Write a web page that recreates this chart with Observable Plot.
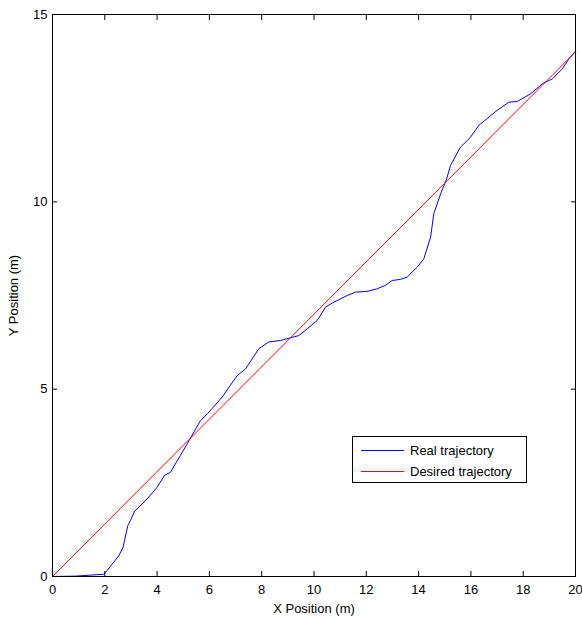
<!DOCTYPE html>
<html><head><meta charset="utf-8">
<script src="https://cdn.jsdelivr.net/npm/d3@7"></script>
<script src="https://cdn.jsdelivr.net/npm/@observablehq/plot@0.6"></script>
<style>
body{margin:0;background:#fff;font-family:"Liberation Sans",Arial,sans-serif;}
#wrap{position:relative;width:582px;height:619px;}
#legend{position:absolute;left:352px;top:436px;width:175px;height:47px;border:1px solid #000;background:#fff;box-sizing:border-box;font-size:13px;color:#000;}
#legend .row{position:absolute;left:8px;height:16px;display:flex;align-items:center;white-space:nowrap;}
#legend .sw{display:inline-block;width:43px;height:0;border-top:1px solid;margin-right:6px;}
</style></head>
<body>
<div id="wrap"></div>
<script>
// Real trajectory (blue)
const realX = [0, 0.88, 1.96, 2.09, 2.54, 2.70, 2.88, 2.98, 3.14, 3.62, 4.00, 4.28, 4.51, 4.89, 5.15, 5.66, 5.92, 6.49, 7.06, 7.38, 7.89, 8.27, 8.72, 9.04, 9.42, 9.74, 10.12, 10.44, 10.70, 11.27, 11.59, 12.03, 12.42, 12.73, 12.99, 13.31, 13.56, 13.95, 14.20, 14.46, 14.58, 14.84, 15.07, 15.22, 15.60, 15.98, 16.30, 16.62, 17.00, 17.45, 17.77, 18.28, 18.73, 19.11, 19.50, 19.75, 20.0];
const realY = [0, 0.01, 0.06, 0.16, 0.56, 0.78, 1.36, 1.49, 1.74, 2.07, 2.38, 2.70, 2.78, 3.23, 3.54, 4.16, 4.34, 4.79, 5.36, 5.54, 6.08, 6.26, 6.30, 6.36, 6.43, 6.61, 6.83, 7.19, 7.30, 7.50, 7.59, 7.61, 7.68, 7.77, 7.90, 7.93, 7.99, 8.26, 8.48, 9.06, 9.68, 10.21, 10.61, 10.97, 11.46, 11.72, 12.04, 12.22, 12.44, 12.66, 12.68, 12.88, 13.15, 13.28, 13.55, 13.82, 14.02];
// Desired trajectory (red)
const desiredX = [0, 20];
const desiredY = [0, 14];
// Ticks
const xTicks = [0, 2, 4, 6, 8, 10, 12, 14, 16, 18, 20];
const yTicks = [0, 5, 10, 15];
const seriesNames = ["Real trajectory", "Desired trajectory"];
const seriesColors = ["#0000ff", "#ff0000"];

const real = realX.map((x, i) => ({x, y: realY[i]}));
const desired = desiredX.map((x, i) => ({x, y: desiredY[i]}));

const chart = Plot.plot({
  width: 582, height: 619,
  marginLeft: 52, marginRight: 7, marginTop: 14, marginBottom: 43,
  x: {domain: [0, 20]},
  y: {domain: [0, 15]},
  style: {fontFamily: "'Liberation Sans', Arial, sans-serif", fontSize: "13px", color: "#000", background: "#fff", overflow: "visible"},
  marks: [
    Plot.line(real, {x: "x", y: "y", stroke: seriesColors[0], strokeWidth: 1}),
    Plot.line(desired, {x: "x", y: "y", stroke: seriesColors[1], strokeWidth: 1}),
    Plot.frame({stroke: "#000", strokeWidth: 1}),
    Plot.axisX({anchor: "bottom", ticks: xTicks, tickSize: -5, tickPadding: 13, label: "X Position (m)", labelAnchor: "center", labelArrow: "none", labelOffset: 36}),
    Plot.axisX({anchor: "top", ticks: xTicks, tickSize: -5, tickFormat: () => "", label: null}),
    Plot.axisY({anchor: "left", ticks: yTicks, tickSize: -5, tickPadding: 10, label: "Y Position (m)", labelAnchor: "center", labelArrow: "none", labelOffset: 44}),
    Plot.axisY({anchor: "right", ticks: yTicks, tickSize: -5, tickFormat: () => "", label: null})
  ]
});
const wrap = document.getElementById("wrap");
wrap.appendChild(chart);

const legend = document.createElement("div");
legend.id = "legend";
seriesNames.forEach((name, i) => {
  const row = document.createElement("div");
  row.className = "row";
  row.style.top = (5 + i * 21) + "px";
  const sw = document.createElement("span");
  sw.className = "sw";
  sw.style.borderColor = seriesColors[i];
  row.appendChild(sw);
  row.appendChild(document.createTextNode(name));
  legend.appendChild(row);
});
wrap.appendChild(legend);
</script>
</body></html>
